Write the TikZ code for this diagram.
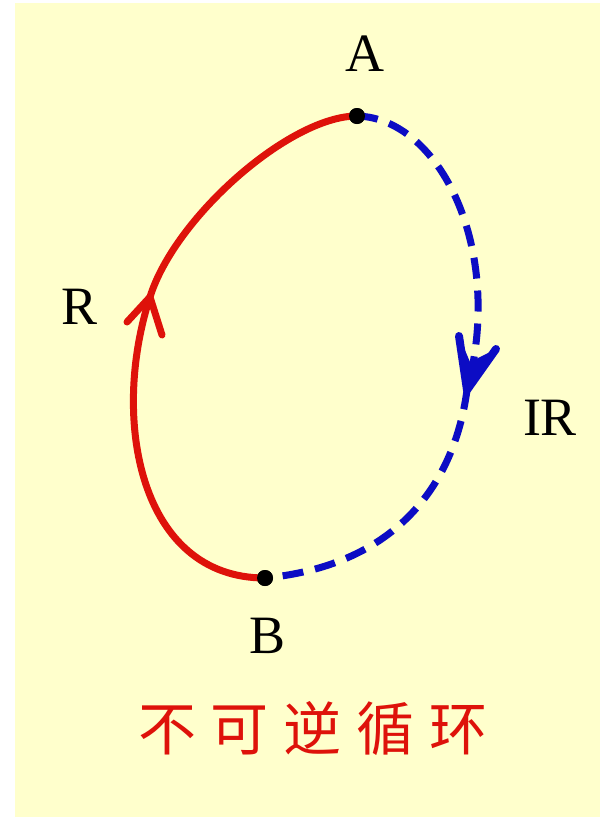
\documentclass[tikz,border=0pt]{standalone}
\usepackage{fontspec}
\setmainfont{Liberation Serif}
\newfontfamily\cjk{Noto Sans CJK SC}
\definecolor{bgyellow}{RGB}{255,255,204}
\definecolor{cred}{RGB}{222,18,10}
\definecolor{cblue}{RGB}{12,12,196}
\begin{document}
\begin{tikzpicture}[x=1pt,y=-1pt,
  lbl/.style={font=\fontsize{54}{60}\selectfont, text=black, inner sep=0pt},
  dot/.style={circle, fill=black, minimum size=16pt, inner sep=0pt},
  redpath/.style={draw=cred, line width=7pt, line cap=round, line join=round},
  bluepath/.style={draw=cblue, line width=7pt, dash pattern=on 21pt off 12pt},
  bluehead/.style={draw=cblue, line width=8pt, line cap=round, line join=round}]
\useasboundingbox (0,0) rectangle (600,817);
\fill[white] (0,0) rectangle (600,817);
\fill[bgyellow] (15,3) rectangle (600,817);

\node[dot] (A) at (357,116) {};
\node[dot] (B) at (265,578) {};

% red reversible path B -> A
\coordinate (rtip) at (150,297);
\coordinate (rl) at (127,322);
\coordinate (rr) at (162,335);
\path[redpath] (B.center) .. controls (140,578) and (110,420) .. (rtip)
  .. controls (175,217) and (290,116) .. (A.center);
\path[redpath] (rl) -- (rtip) -- (rr);

% blue irreversible path A -> B
\coordinate (btip) at (467,390);
\coordinate (bl) at (459,336);
\coordinate (br) at (496,349);
\path[bluepath] (A.center) .. controls (440,118) and (505,250) .. (btip)
  .. controls (455,480) and (400,565) .. (B.center);
\path[bluehead] (bl) -- (btip) -- (br);
\fill[cblue] (bl) -- (btip) -- (br) -- (470,362) -- cycle;

\node[dot] at (A) {};
\node[dot] at (B) {};

\node[lbl] (la) at (365,54) {A};
\node[lbl] (lb) at (268,636) {B};
\node[lbl] (lr) at (80,307) {R};
\node[lbl] (lir) at (550,418) {IR};

\node[text=cred, inner sep=0pt, font=\cjk\fontsize{58}{64}\selectfont] (title) at (313,729)
  {不\hspace{15pt}可\hspace{15pt}逆\hspace{15pt}循\hspace{15pt}环};
\end{tikzpicture}
\end{document}
